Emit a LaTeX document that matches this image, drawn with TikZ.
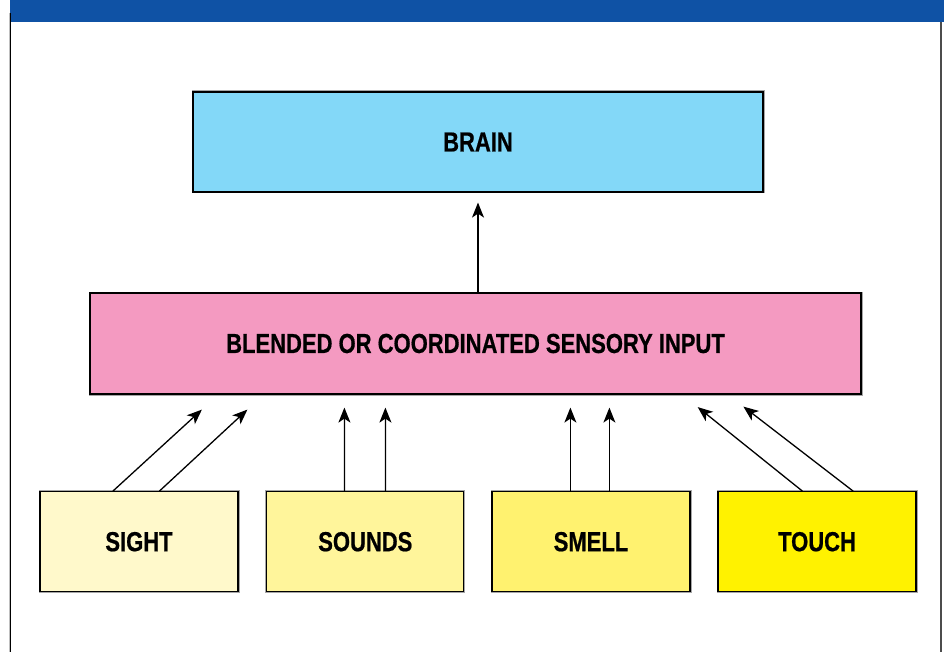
\documentclass[tikz,border=0pt]{standalone}
\usepackage{fontspec}
\setmainfont{Liberation Sans}[FakeStretch=0.8, BoldFeatures={FakeBold=0.6}]
\usetikzlibrary{arrows.meta,calc}

\definecolor{barblue}{HTML}{0F52A5}
\definecolor{brainblue}{HTML}{83D8F8}
\definecolor{blendpink}{HTML}{F49AC1}
\definecolor{sightyel}{HTML}{FFF9CB}
\definecolor{soundyel}{HTML}{FFF59B}
\definecolor{smellyel}{HTML}{FFF26F}
\definecolor{touchyel}{HTML}{FFF200}

\tikzset{
  box/.style={draw=black, line width=1.2pt, rectangle,
    preaction={draw=black!35, line width=3pt},
    font=\fontsize{27.5}{32}\selectfont\bfseries, text=black,
    inner sep=0pt},
  arr/.style={-{Stealth[length=15pt,width=12pt,inset=4pt]}, line width=1.3pt, black}
}

\begin{document}
\begin{tikzpicture}[x=1pt,y=-1pt]
  \useasboundingbox (0,0) rectangle (944,652);
  % frame and header bar
  \fill[barblue] (10,0) rectangle (944,22.5);
  \draw[black!25, line width=1pt] (9.3,13) -- (9.3,652);
  \draw[black, line width=1.3pt] (10.8,13) -- (10.8,652);
  \draw[black!70, line width=2pt] (941,22.5) -- (941,652);

  % boxes
  \node[box, fill=brainblue, minimum width=570pt, minimum height=100pt] (brain) at (478,142) {BRAIN};
  \node[box, fill=blendpink, minimum width=771pt, minimum height=101pt] (blend) at (475.5,343.5) {BLENDED OR COORDINATED SENSORY INPUT};
  \node[box, fill=sightyel, minimum width=198pt, minimum height=100pt] (sight) at (139,541.7) {SIGHT};
  \node[box, fill=soundyel, minimum width=197pt, minimum height=100pt] (sounds) at (365.3,541.7) {SOUNDS};
  \node[box, fill=smellyel, minimum width=198pt, minimum height=100pt] (smell) at (591,541.7) {SMELL};
  \node[box, fill=touchyel, minimum width=198pt, minimum height=100pt] (touch) at (817,541.7) {TOUCH};

  % blended input to brain
  \draw[arr] (blend.north -| brain.south) -- ([yshift=-10pt]brain.south);

  % senses to blended input
  \draw[arr] ([xshift=73.5pt]sight.north west) -- ([xshift=112.5pt,yshift=-15pt]blend.south west);
  \draw[arr] ([xshift=120pt]sight.north west) -- ([xshift=158pt,yshift=-15pt]blend.south west);
  \draw[arr] ([xshift=78.3pt]sounds.north west) -- ([xshift=255pt,yshift=-13pt]blend.south west);
  \draw[arr] ([xshift=119.3pt]sounds.north west) -- ([xshift=296pt,yshift=-13pt]blend.south west);
  \draw[arr] ([xshift=79pt]smell.north west) -- ([xshift=481pt,yshift=-13pt]blend.south west);
  \draw[arr] ([xshift=118pt]smell.north west) -- ([xshift=520pt,yshift=-13pt]blend.south west);
  \draw[arr] ([xshift=85pt]touch.north west) -- ([xshift=608.3pt,yshift=-12.5pt]blend.south west);
  \draw[arr] ([xshift=135.7pt]touch.north west) -- ([xshift=654pt,yshift=-12pt]blend.south west);
\end{tikzpicture}
\end{document}
